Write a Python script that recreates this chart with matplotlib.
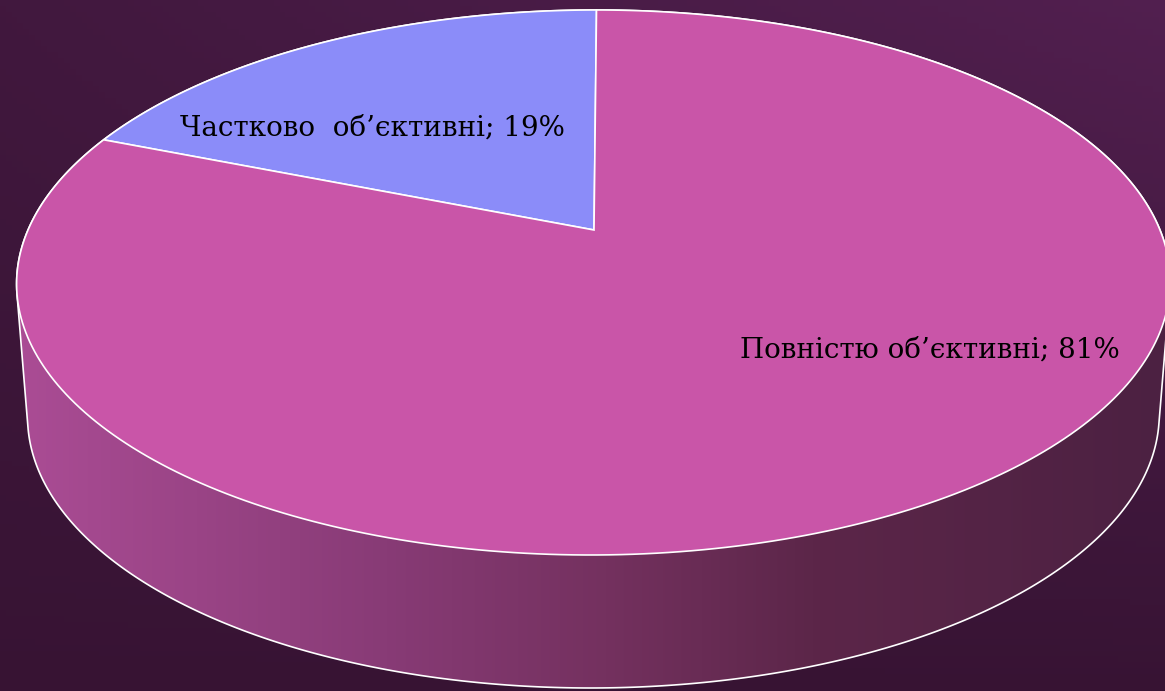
import numpy as np
import matplotlib.pyplot as plt
from matplotlib.patches import Polygon
from matplotlib.colors import LinearSegmentedColormap

# data
labels = ["Частково  об’єктивні", "Повністю об’єктивні"]
shares = [19, 81]
colors = ["#8b8cf9", "#c955a8"]

W, H = 1165, 691

# simple perspective projection of a unit cylinder (pixel units)
cx, cy = 594, 230
sx, sy, sz, sk = 566, 262.4, 133, 3.0
k, q = 0.1926, 0.019


def proj(t, z=0.0):
    X, Y = np.cos(t), np.sin(t)
    w = 1 + k * Y
    u = (sx * X + sk * Y) / w * (1 + q * z)
    v = sy * Y / w + sz * z
    return cx + u, cy - v


def hull(pts):
    # monotone chain convex hull
    pts = sorted(map(tuple, pts))

    def cross(o, a, b):
        return (a[0] - o[0]) * (b[1] - o[1]) - (a[1] - o[1]) * (b[0] - o[0])

    lower, upper = [], []
    for p in pts:
        while len(lower) >= 2 and cross(lower[-2], lower[-1], p) <= 0:
            lower.pop()
        lower.append(p)
    for p in reversed(pts):
        while len(upper) >= 2 and cross(upper[-2], upper[-1], p) <= 0:
            upper.pop()
        upper.append(p)
    return np.array(lower[:-1] + upper[:-1])


fig = plt.figure(figsize=(W / 100, H / 100), dpi=100)
ax = fig.add_axes([0, 0, 1, 1])
ax.set_xlim(0, W)
ax.set_ylim(H, 0)
ax.axis("off")

# background
gx, gy = np.meshgrid(np.linspace(0, 1, 200), np.linspace(0, 1, 120))
bg = 0.5 * gx * (1 - gy) + 0.3 * (1 - gy) + 0.1
bg_cmap = LinearSegmentedColormap.from_list("bg", ["#341230", "#552153"])
ax.imshow(bg, cmap=bg_cmap, extent=[0, W, H, 0], aspect="auto",
          vmin=0, vmax=1, zorder=0)

# side of the pie = hull of top and bottom rims
ta = np.linspace(0, 2 * np.pi, 720, endpoint=False)
tx, ty = proj(ta, 0.0)
bx, by = proj(ta, -1.0)
side_pts = hull(np.column_stack([np.r_[tx, bx], np.r_[ty, by]]))
ax.add_patch(Polygon(side_pts, closed=True, facecolor="none",
                     edgecolor="white", linewidth=1.2, zorder=2))
side_cmap = LinearSegmentedColormap.from_list(
    "side", [(0.0, "#ac4d96"), (0.33, "#883b76"), (0.52, "#74315f"),
             (0.7, "#5c2649"), (1.0, "#4c2142")])
grad = ax.imshow(np.linspace(0, 1, 400)[None, :], cmap=side_cmap,
                 extent=[0, W, H, 0], aspect="auto", zorder=1)
grad.set_clip_path(Polygon(side_pts, closed=True, transform=ax.transData))

# top face wedges
start = np.pi / 2
total = sum(shares)
for share, col in zip(shares, colors):
    end = start + 2 * np.pi * share / total
    tt = np.linspace(start, end, 300)
    px, py = proj(tt, 0.0)
    pts = np.column_stack([np.r_[cx, px], np.r_[cy, py]])
    ax.add_patch(Polygon(pts, closed=True, facecolor=col, edgecolor="white",
                         linewidth=1.2, zorder=3))
    start = end

# labels
font = dict(family="DejaVu Serif", fontsize=20, color="black", zorder=4,
            ha="center", va="center")
ax.text(372, 128, f"{labels[0]}; {shares[0]}%", **font)
ax.text(930, 350, f"{labels[1]}; {shares[1]}%", **font)

fig.savefig("out.png", dpi=100)
